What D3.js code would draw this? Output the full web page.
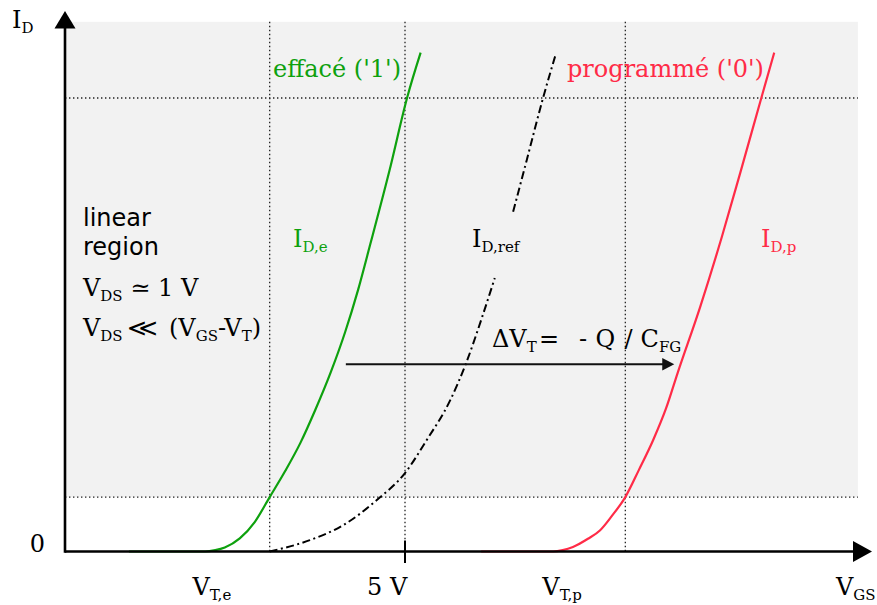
<!DOCTYPE html>
<html>
<head>
<meta charset="utf-8">
<script src="https://cdn.jsdelivr.net/npm/d3@7"></script>
<style>
  html, body { margin: 0; padding: 0; background: #fff; }
  svg { display: block; }
  text { white-space: pre; }
</style>
</head>
<body>
<svg id="chart" width="877" height="605"></svg>
<script>
// Gate voltage V_GS (V) against drain current I_D (arbitrary units, 100 = upper read level)

// erased cell, '1'
const erasedV = [0.94, 2.06, 2.21, 2.35, 2.57, 2.79, 3.01, 3.24, 3.46, 3.68, 3.91, 4.12, 4.31, 4.49, 4.77, 5.03, 5.23];
const erasedI = [0, 0, 0.3, 0.9, 2.9, 6.5, 12.0, 17.8, 23.9, 31.2, 39.6, 48.4, 57.7, 67.8, 83.9, 100, 110];

// programmed cell, '0'
const programmedV = [6.12, 7.18, 7.32, 7.47, 7.69, 7.87, 8.04, 8.24, 8.44, 8.65, 8.84, 9.01, 9.34, 9.66, 9.93, 10.24, 10.43];
const programmedI = [0, 0, 0.3, 1.0, 2.8, 4.7, 7.8, 12.0, 18.0, 24.6, 31.6, 39.4, 53.9, 69.4, 83.5, 100, 110];

// reference cell (null = break around its label)
const refV = [3.01, 3.60, 4.09, 4.59, 5.00, 5.32, 5.66, 5.90, 6.13, 6.32, 6.45, 6.59, 6.79, 7.03, 7.21];
const refI = [0, 2.5, 5.8, 11.4, 17.3, 24.6, 33.2, 41.6, 51.5, 60.3, null, 74.9, 86.3, 100, 109.3];

// dotted guides
const guideV = [3.01, 5.00, 8.24];
const guideI = [12, 100];

// x tick and threshold labels
const tickV = [5];
const tickLabels = ["5 V"];
const thresholdV = [2.16, 7.31];
const thresholdSubs = ["T,e", "T,p"];

// shaded band and threshold shift arrow
const bandV = [0, 11.66];
const bandI = [12, 116.8];
const shiftV = [4.13, 8.96];
const shiftI = 41.3;

const SERIF = "'DejaVu Serif', serif";
const SANS = "'DejaVu Sans', sans-serif";
const GREEN = "#0ea10e";
const RED = "#ff2b47";
const FS = 24, SUB = 15, SHIFT = 5;

const svg = d3.select("#chart");
const x = d3.scaleLinear().domain([0, 12]).range([65, 881]);
const y = d3.scaleLinear().domain([0, 100]).range([551.5, 98]);

// shaded band
svg.append("rect")
  .attr("x", x(bandV[0])).attr("y", y(bandI[1]))
  .attr("width", x(bandV[1]) - x(bandV[0]))
  .attr("height", y(bandI[0]) - y(bandI[1]))
  .attr("fill", "#f2f2f2");

// dotted guides
const dots = svg.append("g")
  .attr("stroke", "#222").attr("stroke-width", 1.3)
  .attr("stroke-dasharray", "1.4,2.6").attr("fill", "none");
guideV.forEach(v => dots.append("line")
  .attr("x1", x(v)).attr("x2", x(v))
  .attr("y1", y(bandI[1])).attr("y2", y(0)));
guideI.forEach(i => dots.append("line")
  .attr("x1", x(0)).attr("x2", x(bandV[1]))
  .attr("y1", y(i)).attr("y2", y(i)));

// curves
const line = d3.line()
  .defined(d => d[1] !== null)
  .x(d => x(d[0])).y(d => y(d[1]))
  .curve(d3.curveMonotoneX);

svg.append("path")
  .attr("d", line(d3.zip(erasedV, erasedI)))
  .attr("fill", "none").attr("stroke", GREEN).attr("stroke-width", 2.2);
svg.append("path")
  .attr("d", line(d3.zip(programmedV, programmedI)))
  .attr("fill", "none").attr("stroke", RED).attr("stroke-width", 2.2);
svg.append("path")
  .attr("d", line(d3.zip(refV, refI)))
  .attr("fill", "none").attr("stroke", "#000").attr("stroke-width", 2)
  .attr("stroke-dasharray", "8,3.5,2,3.5");

// axes
const axes = svg.append("g");
axes.append("line")
  .attr("x1", x(0)).attr("x2", 856)
  .attr("y1", y(0)).attr("y2", y(0))
  .attr("stroke", "#000").attr("stroke-width", 2.6);
axes.append("line")
  .attr("x1", x(0)).attr("x2", x(0))
  .attr("y1", y(0) + 1.3).attr("y2", 26)
  .attr("stroke", "#000").attr("stroke-width", 2.6);
axes.append("path")
  .attr("d", `M${x(0)},11 L${x(0) - 10.5},28.5 L${x(0) + 10.5},28.5 Z`)
  .attr("fill", "#000");
axes.append("path")
  .attr("d", `M872,${y(0)} L853,${y(0) - 10.5} L853,${y(0) + 10.5} Z`)
  .attr("fill", "#000");
tickV.forEach(v => axes.append("line")
  .attr("x1", x(v)).attr("x2", x(v))
  .attr("y1", y(0) - 11).attr("y2", y(0) + 11.5)
  .attr("stroke", "#000").attr("stroke-width", 2));

// shift arrow
svg.append("line")
  .attr("x1", x(shiftV[0])).attr("x2", x(shiftV[1]) - 10)
  .attr("y1", y(shiftI)).attr("y2", y(shiftI))
  .attr("stroke", "#111").attr("stroke-width", 2);
svg.append("path")
  .attr("d", `M${x(shiftV[1])},${y(shiftI)} L${x(shiftV[1]) - 12},${y(shiftI) - 6.3} L${x(shiftV[1]) - 12},${y(shiftI) + 6.3} Z`)
  .attr("fill", "#111");

// text with subscripts: parts = [[text, isSub, absoluteX], ...]
function label(px, py, parts, opts = {}) {
  const t = svg.append("text")
    .attr("x", px).attr("y", py)
    .attr("font-family", opts.family || SERIF)
    .attr("font-size", FS)
    .attr("fill", opts.color || "#000")
    .attr("text-anchor", opts.anchor || "start");
  let down = false;
  parts.forEach(([s, sub, ax]) => {
    const ts = t.append("tspan").text(s);
    if (ax !== undefined) ts.attr("x", ax);
    if (sub && !down) { ts.attr("font-size", SUB).attr("dy", SHIFT); down = true; }
    else if (sub) { ts.attr("font-size", SUB); }
    else if (down) { ts.attr("dy", -SHIFT); down = false; }
  });
  return t;
}

label(12, 28, [["I"], ["D", 1]]);
label(45, 552, [["0"]], { anchor: "end" });
tickV.forEach((v, k) => label(x(v) - 38, 595, [[tickLabels[k]]]));
thresholdV.forEach((v, k) => label(x(v), 595, [["V"], [thresholdSubs[k], 1]], { anchor: "middle" }));
label(836, 595, [["V"], ["GS", 1]]);

label(83, 226, [["linear"]], { family: SANS });
label(83, 255, [["region"]], { family: SANS });
label(83, 296, [["V"], ["DS", 1], [" \u2243 1 V"]]);
label(83, 336, [["V"], ["DS", 1], ["(V", 0, 169], ["GS", 1], ["-V"], ["T", 1], [")"]]);
svg.append("text")
  .attr("x", 127).attr("y", 336)
  .attr("font-family", SANS).attr("font-size", FS)
  .attr("textLength", 31).attr("lengthAdjust", "spacingAndGlyphs")
  .text("\u226A");

label(293, 247, [["I"], ["D,e", 1]], { color: GREEN });
label(472, 247, [["I"], ["D,ref", 1]]);
label(761, 247, [["I"], ["D,p", 1]], { color: RED });

label(492, 347, [["\u0394V"], ["T", 1], ["=", 0, 539], ["-", 0, 579], ["Q", 0, 595.5], ["/", 0, 624.5], ["C", 0, 640.5], ["FG", 1]]);

label(273, 77, [["effac\u00e9 ('1')"]], { color: GREEN });
label(567, 77, [["programm\u00e9 ('0')"]], { color: RED });
</script>
</body>
</html>
